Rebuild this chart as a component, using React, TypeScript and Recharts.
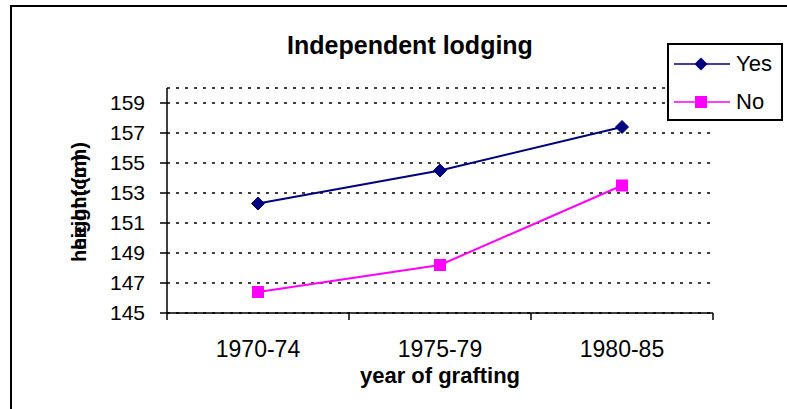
import React from 'react';
import { LineChart, Line, XAxis, YAxis, CartesianGrid } from 'recharts';

const periods = ['1970-74', '1975-79', '1980-85'];
const yesHeights = [152.3, 154.5, 157.4];
const noHeights = [146.4, 148.2, 153.5];
const yTicks = [145, 147, 149, 151, 153, 155, 157, 159];

const FONT = '"Liberation Sans", Arial, sans-serif';
const YES_COLOR = '#000080';
const NO_COLOR = '#FF00FF';

// numeric x so ticks can sit on the category boundaries, like Excel
const data = periods.map((p, i) => ({ x: i + 0.5, period: p, yes: yesHeights[i], no: noHeights[i] }));
const xTicks = [0, 0.5, 1, 1.5, 2, 2.5, 3];

function XTick(props: any) {
  const { x, y, payload } = props;
  const v = payload.value;
  if (Number.isInteger(v)) {
    return <line x1={x} y1={y} x2={x} y2={y + 7} stroke="#000" strokeWidth={1.5} />;
  }
  return (
    <text x={x} y={y + 44} textAnchor="middle" fontFamily={FONT} fontSize={23} fill="#000">
      {periods[Math.floor(v)]}
    </text>
  );
}

function Diamond(props: any) {
  const { cx, cy } = props;
  if (cx == null || cy == null) return null;
  const r = 6.5;
  return (
    <polygon
      points={`${cx},${cy - r} ${cx + r},${cy} ${cx},${cy + r} ${cx - r},${cy}`}
      fill={YES_COLOR}
      stroke={YES_COLOR}
    />
  );
}

function Square(props: any) {
  const { cx, cy } = props;
  if (cx == null || cy == null) return null;
  return <rect x={cx - 6} y={cy - 6} width={12} height={12} fill={NO_COLOR} />;
}

function LegendBox() {
  const items = [
    { name: 'Yes', color: YES_COLOR, marker: 'diamond' },
    { name: 'No', color: NO_COLOR, marker: 'square' },
  ];
  return (
    <div
      style={{
        position: 'absolute',
        left: 667,
        top: 43,
        width: 116,
        height: 78,
        border: '2px solid #000',
        background: '#fff',
        boxSizing: 'border-box',
        fontFamily: FONT,
        fontSize: 22,
      }}
    >
      {items.map((it, i) => (
        <div
          key={it.name}
          style={{ position: 'absolute', left: 5, top: 7 + i * 38, display: 'flex', alignItems: 'center', height: 24 }}
        >
          <svg width={57} height={16} style={{ display: 'block' }}>
            <line x1={0} y1={8} x2={56} y2={8} stroke={it.color} strokeWidth={1.5} />
            {it.marker === 'diamond' ? (
              <polygon points="27,1.5 33.5,8 27,14.5 20.5,8" fill={it.color} />
            ) : (
              <rect x={21} y={2} width={12} height={12} fill={it.color} />
            )}
          </svg>
          <span style={{ marginLeft: 5, color: '#000', lineHeight: '24px' }}>{it.name}</span>
        </div>
      ))}
    </div>
  );
}

function YLabel() {
  const x = 86;
  return (
    <g fontFamily={FONT} fontSize={20} fontWeight="bold" fill="#000">
      <text x={x} y={208} transform={`rotate(-90 ${x} 208)`} textAnchor="middle">height (cm)</text>
      <text x={x} y={196} transform={`rotate(-90 ${x} 196)`} textAnchor="middle">height (cm)</text>
    </g>
  );
}

function XLabel(props: any) {
  const vb = props.viewBox || {};
  return (
    <text
      x={vb.x + vb.width / 2}
      y={vb.y + 70}
      textAnchor="middle"
      fontFamily={FONT}
      fontSize={22}
      fontWeight="bold"
      fill="#000"
    >
      year of grafting
    </text>
  );
}

export default function App() {
  return (
    <div style={{ position: 'absolute', left: 0, top: 0, width: 787, height: 409, background: '#fff', overflow: 'hidden' }}>
      <div
        style={{
          position: 'absolute',
          left: 10,
          top: 5,
          width: 800,
          height: 430,
          border: '2px solid #000',
        }}
      />
      <div style={{ position: 'absolute', left: 0, top: 0 }}>
        <LineChart width={787} height={409} data={data} margin={{ top: 88, right: 74, bottom: 0, left: 0 }}>
          <CartesianGrid vertical={false} stroke="#000" strokeDasharray="3 6" strokeWidth={1.5} />
          <XAxis
            dataKey="x"
            type="number"
            domain={[0, 3]}
            ticks={xTicks}
            interval={0}
            height={96}
            tickSize={0}
            tickMargin={0}
            tickLine={false}
            tick={<XTick />}
            axisLine={{ stroke: '#000', strokeWidth: 1.5 }}
            label={<XLabel />}
          />
          <YAxis
            type="number"
            domain={[145, 160]}
            ticks={yTicks}
            interval={0}
            width={167}
            tickSize={7}
            tickMargin={15}
            axisLine={{ stroke: '#000', strokeWidth: 1.5 }}
            tickLine={{ stroke: '#000', strokeWidth: 1.5 }}
            tick={{ fill: '#000', fontSize: 21, fontFamily: FONT }}
            label={<YLabel />}
          />
          <Line
            dataKey="yes"
            name="Yes"
            stroke={YES_COLOR}
            strokeWidth={2}
            dot={<Diamond />}
            activeDot={false}
            isAnimationActive={false}
          />
          <Line
            dataKey="no"
            name="No"
            stroke={NO_COLOR}
            strokeWidth={2}
            dot={<Square />}
            activeDot={false}
            isAnimationActive={false}
          />
        </LineChart>
      </div>
      <svg width={787} height={409} style={{ position: 'absolute', left: 0, top: 0, pointerEvents: 'none' }}>
        <text x={410} y={54} textAnchor="middle" fontFamily={FONT} fontSize={25} fontWeight="bold" fill="#000">
          Independent lodging
        </text>
      </svg>
      <LegendBox />
    </div>
  );
}
